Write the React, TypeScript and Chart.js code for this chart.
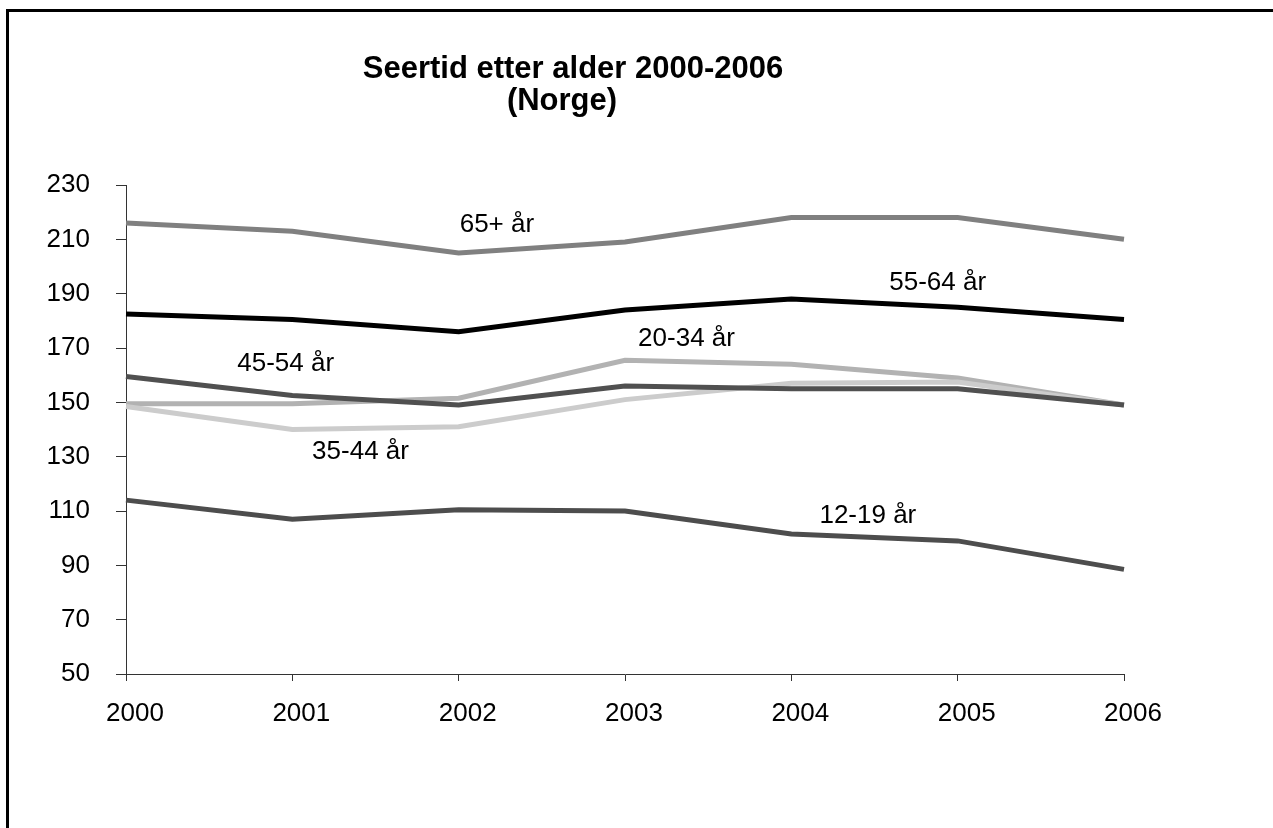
import React, { useEffect, useRef } from "react";
import { Chart, registerables } from "chart.js";

Chart.register(...registerables);

const years = ["2000", "2001", "2002", "2003", "2004", "2005", "2006"];
const s65 = [216, 213, 205, 209, 218, 218, 210];
const s55 = [182.5, 180.5, 176, 184, 188, 185, 180.5];
const s45 = [159.5, 152.5, 149, 156, 155, 155, 149];
const s20 = [149.5, 149.5, 151.5, 165.5, 164, 159, 149];
const s35 = [148.5, 140, 141, 151, 157, 157.5, 149];
const s12 = [114, 107, 110.5, 110, 101.5, 99, 88.5];

const seriesNames = ["65+ år", "55-64 år", "45-54 år", "35-44 år", "20-34 år", "12-19 år"];
const titleLines = ["Seertid etter alder 2000-2006", "(Norge)"];

// label anchors in data space: [category index, value]
const labelAnchors: Record<string, [number, number]> = {
  "65+ år": [2.23, 212.8],
  "55-64 år": [4.88, 191.5],
  "20-34 år": [3.37, 170.6],
  "45-54 år": [0.96, 161.4],
  "35-44 år": [1.41, 129.2],
  "12-19 år": [4.46, 105.4],
};

const FONT = "'Liberation Sans', Arial, sans-serif";

const decorPlugin = {
  id: "decor",
  afterDraw(chart: any) {
    const ctx = chart.ctx;
    const xs = chart.scales.x;
    const ys = chart.scales.y;
    ctx.save();
    // frame
    ctx.fillStyle = "#000";
    ctx.fillRect(6, 9, 3, 2000);
    ctx.fillRect(6, 9, 3000, 3);
    // title
    ctx.font = `bold 31px ${FONT}`;
    ctx.textAlign = "center";
    ctx.textBaseline = "alphabetic";
    ctx.fillText(titleLines[0], 573, 78);
    ctx.fillText(titleLines[1], 562, 110);
    // series labels
    ctx.font = `26px ${FONT}`;
    for (const name of Object.keys(labelAnchors)) {
      const [xi, v] = labelAnchors[name];
      const x0 = xs.getPixelForValue(Math.floor(xi));
      const x1 = xs.getPixelForValue(Math.min(Math.floor(xi) + 1, years.length - 1));
      const px = x0 + (x1 - x0) * (xi - Math.floor(xi));
      const py = ys.getPixelForValue(v);
      ctx.fillText(name, px, py);
    }
    ctx.restore();
  },
};

export default function App() {
  const ref = useRef<HTMLCanvasElement | null>(null);
  useEffect(() => {
    document.body.style.margin = "0";
    const canvas = ref.current!;
    const mk = (label: string, data: number[], color: string) => ({
      label,
      data,
      borderColor: color,
      backgroundColor: color,
      borderWidth: 5,
      pointRadius: 0,
      tension: 0,
      fill: false,
    });
    const chart = new Chart(canvas, {
      type: "line",
      data: {
        labels: years,
        datasets: [
          mk(seriesNames[0], s65, "#808080"),
          mk(seriesNames[1], s55, "#000000"),
          mk(seriesNames[2], s45, "#505050"),
          mk(seriesNames[3], s35, "#cccccc"),
          mk(seriesNames[4], s20, "#b2b2b2"),
          mk(seriesNames[5], s12, "#4d4d4d"),
        ],
      },
      options: {
        responsive: false,
        animation: false,
        devicePixelRatio: 1,
        layout: { padding: { left: 0, top: 185, right: 149, bottom: 0 } },
        plugins: {
          legend: { display: false },
          title: { display: false },
          tooltip: { enabled: false },
        },
        scales: {
          x: {
            type: "category",
            offset: false,
            grid: { drawOnChartArea: false, drawTicks: true, tickLength: 7, color: "#333" },
            border: { color: "#333", width: 1 },
            ticks: { color: "#000", font: { family: FONT, size: 26 }, padding: 17, labelOffset: 9, maxRotation: 0, autoSkip: false },
            afterFit(scale: any) {
              scale.height = 154;
            },
          },
          y: {
            min: 50,
            max: 230,
            grid: { drawOnChartArea: false, drawTicks: true, tickLength: 10, color: "#333" },
            border: { color: "#333", width: 1 },
            ticks: { stepSize: 20, color: "#000", font: { family: FONT, size: 26 }, padding: 26 },
            afterFit(scale: any) {
              scale.width = 126;
            },
          },
        },
      },
      plugins: [decorPlugin],
    } as any);
    return () => chart.destroy();
  }, []);
  return <canvas ref={ref} width={1273} height={828} style={{ display: "block", width: 1273, height: 828 }} />;
}
